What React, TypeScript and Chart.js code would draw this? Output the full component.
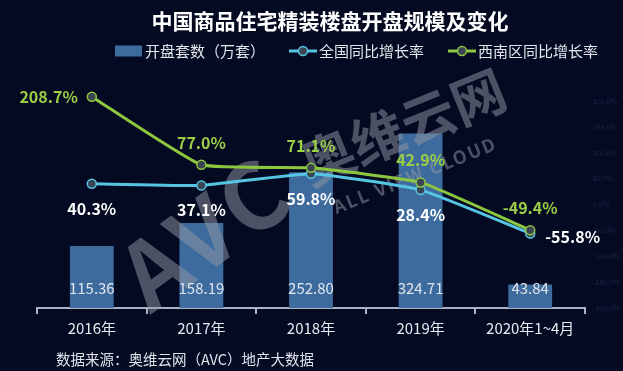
import { useEffect, useRef } from 'react';
import { Chart, registerables } from 'chart.js';

Chart.register(...registerables);

const categories = ['2016年', '2017年', '2018年', '2019年', '2020年1~4月'];
const openings = [115.36, 158.19, 252.8, 324.71, 43.84];
const nationalGrowth = [40.3, 37.1, 59.8, 28.4, -55.8];
const southwestGrowth = [208.7, 77.0, 71.1, 42.9, -49.4];
const seriesNames = ['开盘套数（万套）', '全国同比增长率', '西南区同比增长率'];
const titleText = '中国商品住宅精装楼盘开盘规模及变化';
const sourceText = '数据来源：奥维云网（AVC）地产大数据';

const FONT = '"Noto Sans CJK SC", "Noto Sans", sans-serif';
const BG = '#030a22';
const BAR_COLOR = '#3d6b9d';
const BLUE = '#56c5e3';
const GREEN = '#8dc63f';
const POINT_FILL = '#3a4452';

const bgPlugin = {
  id: 'bgPlugin',
  beforeDraw(chart: any) {
    const { ctx, width, height } = chart;
    ctx.save();
    ctx.fillStyle = BG;
    ctx.fillRect(0, 0, width, height);
    ctx.restore();
  },
};

const watermarkPlugin = {
  id: 'watermarkPlugin',
  afterDatasetDraw(chart: any, args: any) {
    if (args.index !== 0) return;
    const ctx = chart.ctx;
    ctx.save();
    ctx.fillStyle = 'rgba(150,152,165,0.5)';
    ctx.textAlign = 'center';
    ctx.textBaseline = 'middle';
    ctx.save();
    ctx.translate(205, 232);
    ctx.rotate((-36 * Math.PI) / 180);
    ctx.font = `bold 92px ${FONT}`;
    (ctx as any).letterSpacing = '4px';
    ctx.fillText('AVC', 0, 0);
    ctx.restore();
    ctx.save();
    ctx.translate(403, 127);
    ctx.rotate((-22 * Math.PI) / 180);
    ctx.font = `bold 54px ${FONT}`;
    ctx.fillText('奥维云网', 0, 0);
    ctx.restore();
    ctx.save();
    ctx.translate(415, 175);
    ctx.rotate((-22 * Math.PI) / 180);
    ctx.font = `bold 18px ${FONT}`;
    (ctx as any).letterSpacing = '2px';
    ctx.fillText('ALL VIEW CLOUD', 0, 0);
    ctx.restore();
    ctx.restore();
  },
};

const labelsPlugin = {
  id: 'labelsPlugin',
  afterDatasetsDraw(chart: any) {
    const ctx = chart.ctx;
    const area = chart.chartArea;
    ctx.save();
    ctx.textBaseline = 'middle';
    const barMeta = chart.getDatasetMeta(0);
    ctx.font = `15px ${FONT}`;
    ctx.fillStyle = '#dfe5ee';
    ctx.textAlign = 'center';
    barMeta.data.forEach((el: any, i: number) => {
      ctx.fillText(openings[i].toFixed(2), el.x, area.bottom - 20);
    });
    const natMeta = chart.getDatasetMeta(1);
    ctx.font = `bold 16px ${FONT}`;
    ctx.fillStyle = '#ffffff';
    natMeta.data.forEach((el: any, i: number) => {
      const txt = nationalGrowth[i].toFixed(1) + '%';
      if (i === natMeta.data.length - 1) {
        ctx.textAlign = 'left';
        ctx.fillText(txt, el.x + 15, el.y + 3);
      } else {
        ctx.textAlign = 'center';
        ctx.fillText(txt, el.x, el.y + 25);
      }
    });
    const swMeta = chart.getDatasetMeta(2);
    ctx.fillStyle = '#9ccf46';
    swMeta.data.forEach((el: any, i: number) => {
      const txt = southwestGrowth[i].toFixed(1) + '%';
      if (i === 0) {
        ctx.textAlign = 'right';
        ctx.fillText(txt, el.x - 14, el.y);
      } else {
        ctx.textAlign = 'center';
        ctx.fillText(txt, el.x, el.y - 22);
      }
    });
    ctx.restore();
  },
};

const legendSourcePlugin = {
  id: 'legendSourcePlugin',
  afterDraw(chart: any) {
    const ctx = chart.ctx;
    ctx.save();
    ctx.font = `15px ${FONT}`;
    ctx.textBaseline = 'middle';
    ctx.textAlign = 'left';
    const y = 51;
    let x = 115;
    chart.data.datasets.forEach((ds: any, i: number) => {
      if (i === 0) {
        ctx.fillStyle = ds.backgroundColor;
        ctx.fillRect(x, y - 5.5, 27, 11);
      } else {
        ctx.strokeStyle = ds.borderColor;
        ctx.lineWidth = 3;
        ctx.beginPath();
        ctx.moveTo(x, y);
        ctx.lineTo(x + 28, y);
        ctx.stroke();
        ctx.beginPath();
        ctx.arc(x + 14, y, 4.5, 0, Math.PI * 2);
        ctx.fillStyle = POINT_FILL;
        ctx.fill();
        ctx.lineWidth = 1.5;
        ctx.stroke();
      }
      x += 30;
      ctx.fillStyle = '#e3e6ec';
      ctx.fillText(ds.label, x, y);
      x += ctx.measureText(ds.label).width + 24;
    });
    ctx.font = `14.5px ${FONT}`;
    ctx.fillStyle = '#e0e3ea';
    ctx.fillText(sourceText, 56, 359);
    ctx.restore();
  },
};

export default function App() {
  const canvasRef = useRef<HTMLCanvasElement | null>(null);

  useEffect(() => {
    document.body.style.margin = '0';
    const canvas = canvasRef.current;
    if (!canvas) return;
    const lineCommon = {
      borderWidth: 3,
      tension: 0.12,
      pointRadius: 4.5,
      pointBackgroundColor: POINT_FILL,
      pointBorderWidth: 1.5,
      yAxisID: 'y1',
      clip: false,
    };
    const chart = new Chart(canvas, {
      type: 'bar',
      data: {
        labels: categories,
        datasets: [
          {
            type: 'bar',
            label: seriesNames[0],
            data: openings,
            backgroundColor: BAR_COLOR,
            yAxisID: 'y',
            order: 3,
            categoryPercentage: 0.8,
            barPercentage: 0.5,
          },
          {
            ...lineCommon,
            type: 'line',
            label: seriesNames[1],
            data: nationalGrowth,
            borderColor: BLUE,
            backgroundColor: BLUE,
            pointBorderColor: BLUE,
            order: 2,
          } as any,
          {
            ...lineCommon,
            type: 'line',
            label: seriesNames[2],
            data: southwestGrowth,
            borderColor: GREEN,
            backgroundColor: GREEN,
            pointBorderColor: GREEN,
            order: 1,
          } as any,
        ],
      },
      options: {
        responsive: false,
        animation: false,
        maintainAspectRatio: false,
        layout: { padding: { left: 37, right: 0, top: 0, bottom: 29 } },
        plugins: {
          legend: { display: false },
          tooltip: { enabled: false },
          title: {
            display: true,
            text: titleText,
            color: '#ffffff',
            font: { family: FONT, size: 21, weight: 'bold' },
            padding: { top: 8, bottom: 68 },
          },
        },
        scales: {
          x: {
            grid: {
              display: true,
              drawOnChartArea: false,
              drawTicks: true,
              tickLength: 6,
              color: '#aab3c2',
              lineWidth: 2,
              offset: true,
            },
            border: { display: true, color: '#aab3c2', width: 2 },
            ticks: {
              color: '#e6e9ef',
              font: { family: FONT, size: 15 },
              padding: 5,
              maxRotation: 0,
              autoSkip: false,
            },
          },
          y: {
            display: false,
            min: 0,
            max: 385,
          },
          y1: {
            position: 'right',
            min: -200,
            max: 200,
            grid: { display: false, drawTicks: false },
            border: { display: false },
            ticks: {
              stepSize: 50,
              padding: 8,
              color: '#1c2a48',
              font: { family: FONT, size: 7 },
              callback: (v: any) => Number(v).toFixed(1) + '%',
            },
            afterFit: (scale: any) => {
              scale.width = 38;
            },
          },
        },
      },
      plugins: [bgPlugin, watermarkPlugin, labelsPlugin, legendSourcePlugin],
    });
    return () => chart.destroy();
  }, []);

  return (
    <div style={{ position: 'absolute', left: 0, top: 0, width: 623, height: 371 }}>
      <canvas ref={canvasRef} width={623} height={371} style={{ width: 623, height: 371, display: 'block' }} />
    </div>
  );
}
